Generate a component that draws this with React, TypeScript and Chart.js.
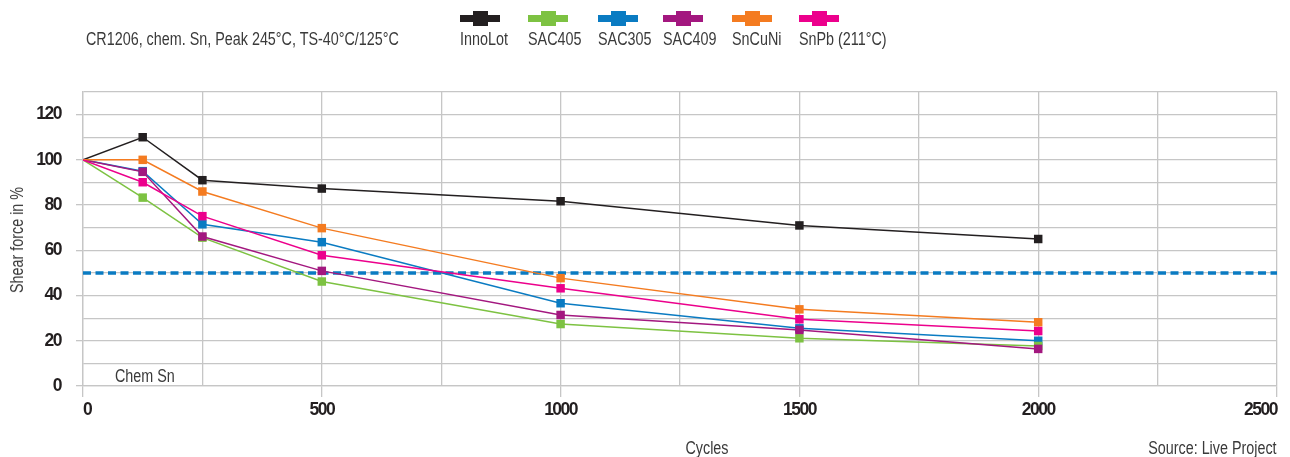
import React, { useEffect, useRef } from 'react';
import { Chart, registerables } from 'chart.js';

Chart.register(...registerables);

const cycles = [0, 125, 250, 500, 1000, 1500, 2000];
const innoLot = [100, 110, 91, 87.3, 81.7, 71, 65];
const sac405 = [100, 83.3, 65.6, 46.2, 27.4, 21.1, 17.7];
const sac305 = [100, 95, 71.5, 63.6, 36.6, 25.5, 20];
const sac409 = [100, 94.7, 66.1, 50.9, 31.4, 24.8, 16.4];
const snCuNi = [100, 100, 86, 69.8, 47.7, 33.9, 28.2];
const snPb = [100, 90.1, 75.1, 57.8, 43.2, 29.5, 24.3];
const thresholdValue = 50;
const thresholdRange = [0, 2500];

const seriesNames = ['InnoLot', 'SAC405', 'SAC305', 'SAC409', 'SnCuNi', 'SnPb (211°C)'];
const seriesColors = ['#231f20', '#7dc242', '#0a7bc2', '#a3177f', '#f47b20', '#ec008c'];
const seriesValues = [innoLot, sac405, sac305, sac409, snCuNi, snPb];
const seriesOrder = [6, 4, 5, 3, 2, 1];
const legendX = [460, 528, 598, 663, 732, 799];

const FONT = "'Liberation Sans', Arial, sans-serif";
const GRID = '#c6c6c6';

const condense = {
  id: 'condense',
  beforeDraw(chart: any) { (chart.ctx as any).letterSpacing = '-1.5px'; },
  afterDraw(chart: any) { (chart.ctx as any).letterSpacing = '0px'; },
};

export default function App() {
  const ref = useRef<HTMLCanvasElement | null>(null);

  useEffect(() => {
    if (!ref.current) return;
    const datasets: any[] = seriesValues.map((vals, i) => ({
      label: seriesNames[i],
      data: cycles.map((c, j) => ({ x: c, y: vals[j] })),
      borderColor: seriesColors[i],
      backgroundColor: seriesColors[i],
      borderWidth: 1.5,
      pointStyle: 'rect',
      pointRadius: (ctx: any) => (ctx.dataIndex === 0 ? 0 : 6),
      pointBorderWidth: 0,
      tension: 0,
      order: seriesOrder[i],
    }));
    datasets.push({
      label: 'threshold',
      data: thresholdRange.map((x) => ({ x, y: thresholdValue })),
      borderColor: '#0a7bc2',
      borderWidth: 3.5,
      borderDash: [8, 4.5],
      pointRadius: 0,
      order: 10,
    });
    const chart = new Chart(ref.current, {
      type: 'line',
      data: { datasets },
      plugins: [condense],
      options: {
        animation: false,
        responsive: false,
        layout: { padding: { top: 92, right: 13, left: 0, bottom: 0 } },
        plugins: { legend: { display: false }, tooltip: { enabled: false } },
        scales: {
          x: {
            type: 'linear',
            min: 0,
            max: 2500,
            afterFit: (s: any) => { s.height = 71; s.paddingRight = 0; s.paddingLeft = 0; },
            ticks: {
              stepSize: 250,
              autoSkip: false,
              maxRotation: 0,
              align: 'inner',
              padding: 3,
              color: '#231f20',
              font: { family: FONT, size: 17.5, weight: 'bold' },
              callback: (v: any) => (Number(v) % 500 === 0 ? String(v) : ''),
            },
            grid: {
              color: GRID,
              lineWidth: 1.3,
              tickLength: 11,
              tickColor: (ctx: any) => (ctx.tick && ctx.tick.value % 500 === 0 ? GRID : 'rgba(0,0,0,0)'),
            },
            border: { color: GRID, width: 1.3 },
          },
          y: {
            min: 0,
            max: 130,
            afterFit: (s: any) => { s.width = 83; },
            ticks: {
              stepSize: 10,
              autoSkip: false,
              padding: 15,
              color: '#231f20',
              font: { family: FONT, size: 17.5, weight: 'bold' },
              callback: (v: any) => (Number(v) % 20 === 0 ? String(v) : ''),
            },
            grid: {
              color: GRID,
              lineWidth: 1.3,
              tickLength: 7,
              tickColor: (ctx: any) => (ctx.tick && ctx.tick.value % 20 === 0 ? GRID : 'rgba(0,0,0,0)'),
            },
            border: { color: GRID, width: 1.3 },
          },
        },
      },
    });
    return () => chart.destroy();
  }, []);

  const text: React.CSSProperties = {
    position: 'absolute', fontFamily: FONT, fontSize: 17.5, color: '#3a3a3a',
    whiteSpace: 'nowrap', lineHeight: '20px', display: 'inline-block',
  };

  return (
    <div style={{ position: 'fixed', left: 0, top: 0, width: 1290, height: 457, background: '#fff', overflow: 'hidden' }}>
      <canvas ref={ref} width={1290} height={457} style={{ position: 'absolute', left: 0, top: 0, width: 1290, height: 457 }} />
      <div style={{ ...text, left: 86, top: 29, transform: 'scaleX(0.82)', transformOrigin: 'left center' }}>CR1206, chem. Sn, Peak 245°C, TS-40°C/125°C</div>
      {seriesNames.map((n, i) => (
        <div key={n} style={{ position: 'absolute', left: legendX[i], top: 10, height: 40 }}>
          <div style={{ position: 'absolute', left: 0, top: 5, width: 40, height: 7, background: seriesColors[i] }} />
          <div style={{ position: 'absolute', left: 13, top: 1, width: 15, height: 15, background: seriesColors[i] }} />
          <div style={{ ...text, left: 0, top: 19, transform: 'scaleX(0.82)', transformOrigin: 'left center' }}>{n}</div>
        </div>
      ))}
      <div style={{ ...text, left: 115, top: 366, transform: 'scaleX(0.82)', transformOrigin: 'left center' }}>Chem Sn</div>
      <div style={{ ...text, left: 707, top: 438, transform: 'translateX(-50%) scaleX(0.82)' }}>Cycles</div>
      <div style={{ ...text, right: 13, top: 438, transform: 'scaleX(0.82)', transformOrigin: 'right center' }}>Source: Live Project</div>
      <div style={{ ...text, left: 17, top: 240, transform: 'translate(-50%, -50%) rotate(-90deg) scaleX(0.82)' }}>Shear force in %</div>
    </div>
  );
}
